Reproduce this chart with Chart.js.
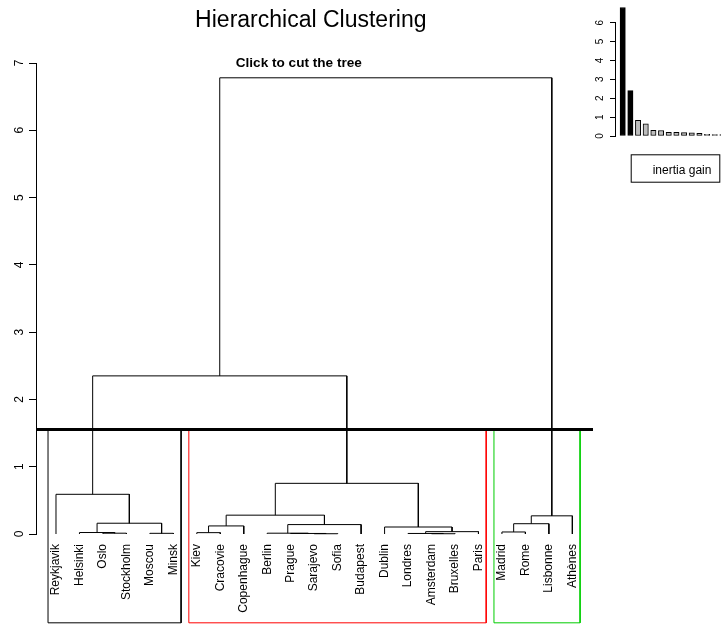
<!DOCTYPE html>
<html><head><meta charset="utf-8">
<script src="https://cdn.jsdelivr.net/npm/chart.js@4.4.1/dist/chart.umd.min.js"></script>
<style>
html,body{margin:0;padding:0;background:#fff;overflow:hidden;}
#wrap{position:relative;width:721px;height:625px;overflow:hidden;background:#fff;}
#main{position:absolute;left:0;top:0;}
#inset{position:absolute;left:580px;top:0;}
</style></head><body>
<div id="wrap">
<canvas id="main" width="721" height="625"></canvas>
<canvas id="inset" width="160" height="190"></canvas>
</div>
<script>
// ---- data ----
const leafNames = ['Reykjavik','Helsinki','Oslo','Stockholm','Moscou','Minsk','Kiev','Cracovie','Copenhague',
  'Berlin','Prague','Sarajevo','Sofia','Budapest','Dublin','Londres','Amsterdam','Bruxelles','Paris',
  'Madrid','Rome','Lisbonne','Athènes'];
// merges (R hclust style): negative = leaf position (1-based), positive = earlier merge (1-based)
const mergeLeft   = [-17, -12, -16, -11, -3, -10, -5, -7, -2, -20,  3, -15, 8,  6, 10,  9, 15, 13, -1, 18, 19, 21];
const mergeRight  = [-18, -13,   1,   2, -4,   4, -6, -8,  5, -21, -19, 11, -9, -14, -22, 7, -23, 14, 16, 12, 20, 17];
const mergeHeight = [0.004, 0.004, 0.008, 0.008, 0.012, 0.012, 0.01, 0.02, 0.022, 0.03, 0.035, 0.104,
  0.12, 0.14, 0.153, 0.16, 0.27, 0.28, 0.59, 0.753, 2.35, 6.78];
const clusterSizes = [6, 13, 4];
const clusterColors = ['#000000', '#FF0000', '#00CD00'];
const yTicks = [0, 1, 2, 3, 4, 5, 6, 7];
const inertiaGain = [6.8, 2.40, 0.83, 0.65, 0.30, 0.29, 0.19, 0.19, 0.18, 0.17, 0.14, 0.09, 0.08, 0.07];
const insetTicks = [0, 1, 2, 3, 4, 5, 6];
const titleText = 'Hierarchical Clustering';
const subText = 'Click to cut the tree';
const legendText = 'inertia gain';

const FONT = "'Liberation Sans', Arial, Helvetica, sans-serif";
Chart.defaults.font.family = FONT;
Chart.defaults.color = '#000';

// ---- build dendrogram segments ----
const datasets = [];
const nodeX = [], nodeH = [];
function childXH(c) { return c < 0 ? [-c, 0] : [nodeX[c - 1], nodeH[c - 1]]; }
mergeLeft.forEach((a, i) => {
  const [xa, ha] = childXH(a);
  const [xb, hb] = childXH(mergeRight[i]);
  const h = mergeHeight[i];
  nodeX.push((xa + xb) / 2); nodeH.push(h);
  datasets.push({
    data: [{x: xa, y: ha}, {x: xa, y: h}, {x: xb, y: h}, {x: xb, y: hb}],
    borderColor: '#000', borderWidth: 1, showLine: true, pointRadius: 0, tension: 0, clip: false
  });
});
// cut height: between 2nd and 3rd highest merges (3 clusters)
const sortedH = [...mergeHeight].sort((p, q) => q - p);
const cutH = (sortedH[1] + sortedH[2]) / 2;
const xMin = 0.148, xMax = 23.88;
datasets.push({
  data: [{x: xMin, y: cutH}, {x: xMax, y: cutH}],
  borderColor: '#000', borderWidth: 3, showLine: true, pointRadius: 0, clip: false
});
// cluster rectangles
const rectBottom = -1.32;
let start = 0;
clusterSizes.forEach((s, i) => {
  const l = start + 0.66, r = start + s + 0.33;
  start += s;
  datasets.push({
    data: [{x: l, y: rectBottom}, {x: l, y: cutH - 0.006}, {x: r, y: cutH - 0.006}, {x: r, y: rectBottom}, {x: l, y: rectBottom}],
    borderColor: clusterColors[i], borderWidth: 1, showLine: true, pointRadius: 0, tension: 0, clip: false
  });
});

const mainPlugin = {
  id: 'mainText',
  afterDraw(chart) {
    const ctx = chart.ctx, ys = chart.scales.y, ca = chart.chartArea;
    ctx.save();
    ctx.fillStyle = '#000';
    ctx.font = '12px ' + FONT;
    ctx.textAlign = 'center'; ctx.textBaseline = 'alphabetic';
    yTicks.forEach(v => {
      ctx.save();
      ctx.translate(ca.left - 12.7, ys.getPixelForValue(v));
      ctx.rotate(-Math.PI / 2);
      ctx.fillText(String(v), 0, 0);
      ctx.restore();
    });
    ctx.font = '23px ' + FONT;
    ctx.fillText(titleText, 310.8, 26.7);
    ctx.font = 'bold 13.6px ' + FONT;
    ctx.fillText(subText, 298.8, 66.7);
    ctx.restore();
  }
};

new Chart(document.getElementById('main'), {
  type: 'scatter',
  data: { datasets },
  options: {
    responsive: false, animation: false, devicePixelRatio: 1,
    layout: { padding: { left: 0, right: 128, top: 63, bottom: 0 } },
    plugins: { legend: { display: false }, tooltip: { enabled: false }, title: { display: false } },
    scales: {
      x: {
        type: 'linear', min: xMin, max: xMax, position: 'bottom',
        afterBuildTicks: s => { s.ticks = leafNames.map((n, i) => ({ value: i + 1 })); },
        afterFit: s => { s.height = 91; },
        grid: { display: false, drawTicks: false }, border: { display: false },
        ticks: { autoSkip: false, minRotation: 90, maxRotation: 90, padding: 10, color: '#000',
          font: { size: 12, family: FONT }, callback: (v, i) => leafNames[i] }
      },
      y: {
        type: 'linear', min: 0, max: 7,
        afterBuildTicks: s => { s.ticks = yTicks.map(v => ({ value: v })); },
        afterFit: s => { s.width = 36; },
        grid: { drawOnChartArea: false, drawTicks: true, tickLength: 7, color: '#000', lineWidth: 1 },
        border: { display: true, color: '#000', width: 1 },
        ticks: { display: false }
      }
    }
  },
  plugins: [mainPlugin]
});

// ---- inset: inertia gain ----
const insetPlugin = {
  id: 'insetText',
  afterDraw(chart) {
    const ctx = chart.ctx, ys = chart.scales.y, ca = chart.chartArea;
    ctx.save();
    ctx.strokeStyle = '#000'; ctx.lineWidth = 1;
    ctx.beginPath();
    ctx.moveTo(ca.left - 0.5, ys.getPixelForValue(insetTicks[0]));
    ctx.lineTo(ca.left - 0.5, ys.getPixelForValue(insetTicks[insetTicks.length - 1]));
    ctx.stroke();
    ctx.fillStyle = '#000';
    ctx.font = '10px ' + FONT;
    ctx.textAlign = 'center'; ctx.textBaseline = 'alphabetic';
    insetTicks.forEach(v => {
      ctx.save();
      ctx.translate(ca.left - 12.7, ys.getPixelForValue(v));
      ctx.rotate(-Math.PI / 2);
      ctx.fillText(String(v), 0, 0);
      ctx.restore();
    });
    ctx.strokeRect(50.7 + 0.5, 154.3 + 0.5, 88.6, 27.4);
    ctx.font = '12px ' + FONT;
    ctx.textAlign = 'left';
    ctx.fillText(legendText, 72.7, 174);
    ctx.restore();
  }
};

new Chart(document.getElementById('inset'), {
  type: 'bar',
  data: {
    datasets: [{
      data: inertiaGain.map((v, i) => ({ x: i + 1, y: v })),
      backgroundColor: inertiaGain.map((v, i) => i < clusterSizes.length - 1 ? '#000000' : '#BEBEBE'),
      borderColor: '#000', borderWidth: 1, borderSkipped: false,
      barThickness: 5.3
    }]
  },
  options: {
    responsive: false, animation: false, devicePixelRatio: 1,
    layout: { padding: { left: 0, right: 0, top: 0, bottom: 54 } },
    plugins: { legend: { display: false }, tooltip: { enabled: false } },
    scales: {
      x: { type: 'linear', min: 0.126, max: 16.29, offset: false, display: false, grid: { offset: false } },
      y: {
        type: 'linear', min: 0, max: 7.196,
        afterBuildTicks: s => { s.ticks = insetTicks.map(v => ({ value: v })); },
        afterFit: s => { s.width = 36; },
        grid: { drawOnChartArea: false, drawTicks: true, tickLength: 6, color: '#000', lineWidth: 1 },
        border: { display: false },
        ticks: { display: false }
      }
    }
  },
  plugins: [insetPlugin]
});
</script>
</body></html>
